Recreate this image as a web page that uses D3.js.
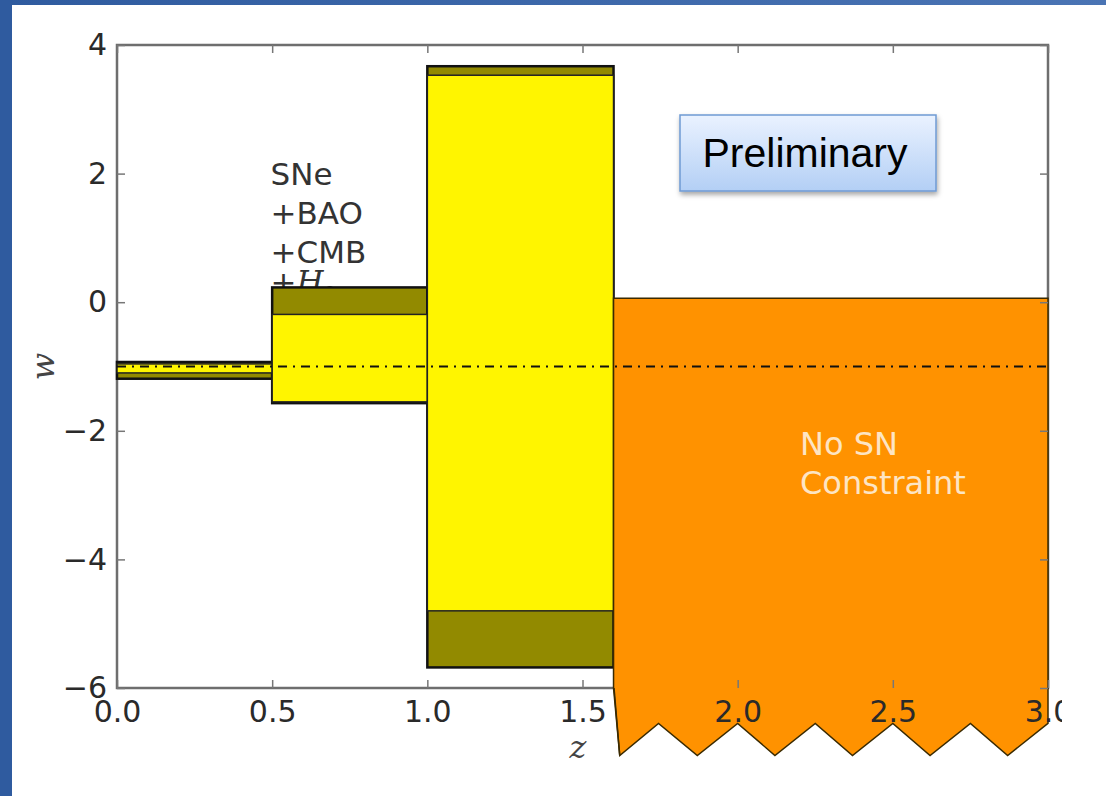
<!DOCTYPE html>
<html>
<head>
<style>
body { margin: 0; background: #fff; }
svg { display: block; }
</style>
</head>
<body>
<script src="https://cdn.jsdelivr.net/npm/d3@7"></script>
<script>
// data
var binEdges = [0.0, 0.5, 1.0, 1.6];
var outerLow = [-1.19, -1.57, -5.68];
var outerHigh = [-0.93, 0.23, 3.67];
var innerLow = [-1.1, -1.55, -4.8];
var innerHigh = [-0.96, -0.19, 3.53];

var noSnStart = 1.6, noSnEnd = 3.0, noSnTop = 0.06;
// torn edge under the orange block (z, w)
var tornZ = [1.6, 1.62, 1.745, 1.87, 2.0, 2.12, 2.25, 2.37, 2.5, 2.62, 2.75, 2.87, 3.0];
var tornW = [-6.0, -7.05, -6.55, -7.05, -6.55, -7.05, -6.55, -7.05, -6.55, -7.05, -6.55, -7.05, -6.55];

var xTicks = [0.0, 0.5, 1.0, 1.5, 2.0, 2.5, 3.0];
var yTicks = [-6, -4, -2, 0, 2, 4];
var labelLines = ["SNe", "+BAO", "+CMB"];

var W = 1106, H = 796;
var svg = d3.select("body").append("svg").attr("width", W).attr("height", H);

var defs = svg.append("defs");
var bg = defs.append("linearGradient").attr("id", "bluebg").attr("x1", 0).attr("x2", 1).attr("y1", 0).attr("y2", 0);
bg.append("stop").attr("offset", "0%").attr("stop-color", "#2f5b9f");
bg.append("stop").attr("offset", "100%").attr("stop-color", "#4a74b4");
var boxg = defs.append("linearGradient").attr("id", "boxg").attr("x1", 0).attr("x2", 0).attr("y1", 0).attr("y2", 1);
boxg.append("stop").attr("offset", "0%").attr("stop-color", "#eaf2ff");
boxg.append("stop").attr("offset", "100%").attr("stop-color", "#b3cff5");
var shadow = defs.append("filter").attr("id", "shadow").attr("x", "-10%").attr("y", "-10%").attr("width", "130%").attr("height", "140%");
shadow.append("feDropShadow").attr("dx", 1).attr("dy", 3).attr("stdDeviation", 2.5).attr("flood-color", "#000").attr("flood-opacity", 0.35);
defs.append("clipPath").attr("id", "crop").append("rect").attr("x", 0).attr("y", 0).attr("width", 1062).attr("height", H);

// slide background strips
svg.append("rect").attr("x", 0).attr("y", 0).attr("width", W).attr("height", 5).attr("fill", "url(#bluebg)");
svg.append("rect").attr("x", 0).attr("y", 0).attr("width", 12).attr("height", H).attr("fill", "#2f5b9f");

var x = d3.scaleLinear().domain([0, 3]).range([117, 1048]);
var y = d3.scaleLinear().domain([-6, 4]).range([688, 45]);

var g = svg.append("g").attr("clip-path", "url(#crop)");
var txt = "#2a2a2a";

// frame + ticks
g.append("rect").attr("x", x(0)).attr("y", y(4)).attr("width", x(3) - x(0)).attr("height", y(-6) - y(4))
  .attr("fill", "none").attr("stroke", "#6e6e6e").attr("stroke-width", 2.5);

var xAxB = d3.axisBottom(x).tickValues(xTicks).tickSize(-8).tickPadding(13).tickFormat(d3.format(".1f"));
var xAxT = d3.axisTop(x).tickValues(xTicks).tickSize(-8).tickFormat("");
var yAxL = d3.axisLeft(y).tickValues(yTicks).tickSize(-8).tickPadding(10).tickFormat(function(d) { return d < 0 ? "\u2212" + (-d) : d; });
var yAxR = d3.axisRight(y).tickValues(yTicks).tickSize(-8).tickFormat("");

function styleAx(sel) {
  sel.select(".domain").remove();
  sel.selectAll(".tick line").attr("stroke", "#777").attr("stroke-width", 1.5);
  sel.selectAll(".tick text").attr("fill", txt).style("font-family", "DejaVu Sans").style("font-size", "30px");
}

// labels go first so the olive bar hides the lower half of the H0 line
var lab = g.append("g").attr("font-family", "DejaVu Sans").attr("font-size", 31).attr("fill", "#333");
labelLines.forEach(function(s, i) {
  lab.append("text").attr("x", x(0.495)).attr("y", 185 + i * 39).text(s);
});
var h0 = lab.append("text").attr("x", x(0.495)).attr("y", 293);
h0.append("tspan").text("+");
h0.append("tspan").attr("font-family", "DejaVu Serif").attr("font-style", "italic").text("H");
h0.append("tspan").attr("font-size", 19).attr("dy", 7).text("0");

// bars
var bins = d3.range(outerLow.length);
g.selectAll("rect.outer").data(bins).enter().append("rect").attr("class", "outer")
  .attr("x", function(i) { return x(binEdges[i]); })
  .attr("width", function(i) { return x(binEdges[i + 1]) - x(binEdges[i]); })
  .attr("y", function(i) { return y(outerHigh[i]); })
  .attr("height", function(i) { return y(outerLow[i]) - y(outerHigh[i]); })
  .attr("fill", "#928a00").attr("stroke", "#111").attr("stroke-width", 2.5);
g.selectAll("rect.inner").data(bins).enter().append("rect").attr("class", "inner")
  .attr("x", function(i) { return x(binEdges[i]); })
  .attr("width", function(i) { return x(binEdges[i + 1]) - x(binEdges[i]); })
  .attr("y", function(i) { return y(innerHigh[i]); })
  .attr("height", function(i) { return y(innerLow[i]) - y(innerHigh[i]); })
  .attr("fill", "#fff500").attr("stroke", "#222").attr("stroke-width", 1.5);

// orange "no constraint" block with torn bottom edge
var tornPts = [[noSnStart, noSnTop], [noSnEnd, noSnTop]];
for (var k = tornZ.length - 1; k >= 0; k--) tornPts.push([tornZ[k], tornW[k]]);
g.append("path")
  .attr("d", d3.line().x(function(d) { return x(d[0]); }).y(function(d) { return y(d[1]); })(tornPts) + "Z")
  .attr("fill", "#ff9200").attr("stroke", "#3a2a00").attr("stroke-width", 1.5).attr("stroke-linejoin", "miter");

// w = -1 reference line
g.append("line").attr("x1", x(0)).attr("x2", x(3)).attr("y1", y(-1)).attr("y2", y(-1))
  .attr("stroke", "#111").attr("stroke-width", 2).attr("stroke-dasharray", "9,6,2,6");

// axes drawn last so tick labels sit over the orange
g.append("g").attr("transform", "translate(0," + y(-6) + ")").call(xAxB).call(styleAx);
g.append("g").attr("transform", "translate(0," + y(4) + ")").call(xAxT).call(styleAx);
g.append("g").attr("transform", "translate(" + x(0) + ",0)").call(yAxL).call(styleAx);
g.append("g").attr("transform", "translate(" + x(3) + ",0)").call(yAxR).call(styleAx);
g.append("path").attr("d", "M" + (x(1.6) + 0.5) + "," + y(-6) + "L" + x(1.62) + "," + y(-7.05))
  .attr("stroke", "#3a2a00").attr("stroke-width", 1.5);

g.append("text").attr("x", 578).attr("y", 758).attr("text-anchor", "middle")
  .attr("font-family", "DejaVu Serif").attr("font-style", "italic").attr("font-size", 32).attr("fill", "#444").text("z");
g.append("text").attr("transform", "translate(54," + y(-1) + ") rotate(-90)").attr("text-anchor", "middle")
  .attr("font-family", "DejaVu Serif").attr("font-style", "italic").attr("font-size", 32).attr("fill", "#444").text("w");

var ns = g.append("g").attr("font-family", "DejaVu Sans").attr("font-size", 32).attr("fill", "#fde5c4");
ns.append("text").attr("x", 800).attr("y", 455).text("No SN");
ns.append("text").attr("x", 800).attr("y", 494).text("Constraint");

// preliminary call-out
svg.append("rect").attr("x", 680).attr("y", 115).attr("width", 256).attr("height", 76)
  .attr("fill", "url(#boxg)").attr("stroke", "#6f9ad3").attr("stroke-width", 1.5).attr("filter", "url(#shadow)");
svg.append("text").attr("x", 805).attr("y", 167).attr("text-anchor", "middle")
  .attr("font-family", "Liberation Sans").attr("font-size", 41).attr("fill", "#000").text("Preliminary");
</script>
</body>
</html>
